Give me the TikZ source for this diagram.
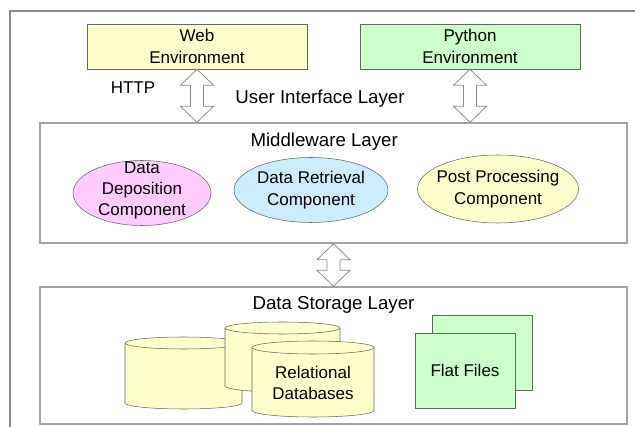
\documentclass[tikz,border=0pt]{standalone}
\usepackage{fontspec}
\setmainfont{Liberation Sans}
\usetikzlibrary{shapes.geometric, positioning, calc}
\definecolor{lyellow}{HTML}{FFFFCC}
\definecolor{lgreen}{HTML}{CCFFCC}
\definecolor{lpink}{HTML}{FFCCFF}
\definecolor{lblue}{HTML}{CCECFF}
\definecolor{edgegrey}{HTML}{5E6A5E}
\definecolor{layergrey}{HTML}{A3A3A3}
\definecolor{framegrey}{HTML}{8C8C8C}
\newcommand{\layerfont}{\fontsize{14}{17}\selectfont}
\tikzstyle{envbox} = [rectangle, minimum width=165pt, minimum height=33.75pt, align=center,
inner sep=0pt, draw=edgegrey]
\tikzstyle{layer} = [rectangle, minimum width=440.25pt, draw=layergrey, line width=1.1pt]
\tikzstyle{component} = [ellipse, inner sep=0pt, minimum height=48.75pt, draw=edgegrey]
\tikzstyle{dbspace} = [rectangle, inner sep=0pt, outer sep=0pt]
\tikzstyle{dbline} = [draw=edgegrey, fill=lyellow]
\tikzstyle{sheet} = [rectangle, minimum width=75pt, minimum height=56.25pt, draw=edgegrey, fill=lgreen]
\tikzstyle{blockarrow} = [draw=framegrey, fill=white, line width=0.6pt]
% double headed block arrow between two tips
\newcommand{\dblarrow}[2]{%
\draw[blockarrow] (#1) -- ++(16.5,16) -- ++(-10,0) -- ($(#2)+(6.5,-16)$) -- ++(10,0) -- (#2)
-- ++(-16.5,-16) -- ++(10,0) -- ($(#1)+(-6.5,16)$) -- ++(-10,0) -- cycle;}
% drum outline inside a node: name, half width, end radius (px)
\newcommand{\drumdb}[3]{%
\draw[dbline] ([yshift=-#3*0.75pt]#1.north west) -- ([yshift=#3*0.75pt]#1.south west)
arc[start angle=180, end angle=0, x radius=#2, y radius=#3] -- ([yshift=-#3*0.75pt]#1.north east)
arc[start angle=0, end angle=-180, x radius=#2, y radius=#3] -- cycle;
\draw[edgegrey] ([yshift=-#3*0.75pt]#1.north west) arc[start angle=180, end angle=0, x radius=#2, y radius=#3];}

\begin{document}
\begin{tikzpicture}[x=0.75pt, y=-0.75pt, font=\fontsize{12.75}{16}\selectfont]
\useasboundingbox (0,0) rectangle (635,427);
\clip (0,0) rectangle (635,427);
\draw[framegrey, line width=0.8pt] (10,11) rectangle (660,450);

% ------------------------- nodes -------------------------
% ----- user interface layer
\node(web)[envbox, fill=lyellow] at (197,46.5) {Web\\Environment};
\node(python)[envbox, fill=lgreen] at (470,46.5) {Python\\Environment};
\node(http) at (133,88) {HTTP};
\node(ui)[font=\layerfont] at (320,99) {User Interface Layer};
% ----- middleware layer
\node(mw)[layer, minimum height=90pt,
label={[anchor=center, xshift=-7pt, yshift=-14.25pt, font=\layerfont]north:Middleware Layer}] at (333.5,183) {};
\node(depo)[component, fill=lpink, minimum width=103.5pt,
label={[align=center, yshift=2pt]center:Data\\Deposition\\Component}] at (142,193) {};
\node(retr)[component, fill=lblue, minimum width=115.5pt,
label={[align=center]center:Data Retrieval\\Component}] at (311,190) {};
\node(post)[component, fill=lyellow, minimum width=120.75pt, minimum height=51pt,
label={[align=center]center:Post Processing\\Component}] at (498,189) {};
% ----- data storage layer
\node(store)[layer, minimum height=102.75pt,
label={[anchor=center, yshift=-14.25pt, font=\layerfont]north:Data Storage Layer}] at (333.5,355.5) {};
\node(db1)[dbspace, minimum width=87.75pt, minimum height=54pt] at (183.5,373) {};
\drumdb{db1}{58.5}{6}
\node(db2)[dbspace, minimum width=86.25pt, minimum height=52.5pt] at (282.5,357) {};
\drumdb{db2}{57.5}{6}
\node(db3)[dbspace, minimum width=91.5pt, minimum height=57pt] at (313,379) {};
\drumdb{db3}{61}{6.5}
\node(dbtext)[align=center] at ([yshift=-3pt]db3.center) {Relational\\Databases};
\node(flat2)[sheet] at (482,353) {};
\node(flat1)[sheet] at (465,370.5) {Flat Files};

% ------------------------- connections -------------------------
\coordinate (webin) at (web.south |- mw.north);
\coordinate (pyin) at (python.south |- mw.north);
\coordinate (storein) at (mw.south |- store.north);
\dblarrow{web.south}{webin}
\dblarrow{python.south}{pyin}
\dblarrow{mw.south}{storein}
\end{tikzpicture}
\end{document}
